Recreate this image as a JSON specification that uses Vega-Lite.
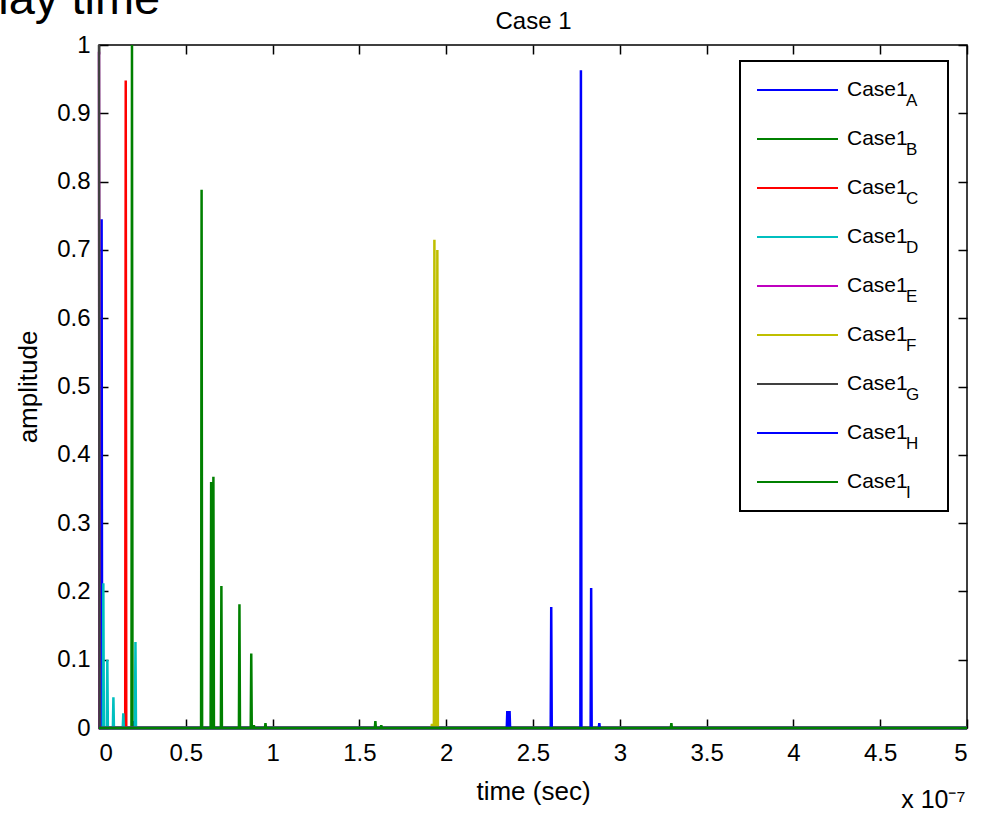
{
  "$schema": "https://vega.github.io/schema/vega-lite/v6.json",
  "width": 868,
  "height": 683,
  "autosize": {"type": "none"},
  "padding": {"left": 99, "top": 45, "right": 19, "bottom": 86},
  "background": "white",
  "config": {
    "font": "Liberation Sans",
    "view": {"stroke": "black", "strokeWidth": 1.5},
    "axis": {
      "grid": false, "domain": false, "tickColor": "black", "tickWidth": 1.5, "tickSize": -9,
      "labelColor": "black", "labelFontSize": 24, "labelFont": "Liberation Sans",
      "titleColor": "black", "titleFontWeight": "normal", "titleFontSize": 26, "titleFont": "Liberation Sans",
      "zindex": 1
    }
  },
  "title": {"text": "delay time", "fontSize": 47, "fontWeight": "normal", "anchor": "start", "frame": "group", "dx": -153, "dy": 52, "color": "black", "baseline": "alphabetic", "offset": 0},
  "data": {"values": [
    {"series": "A", "t": 0, "v": 0}, {"series": "A", "t": 0.012, "v": 0}, {"series": "A", "t": 0.015, "v": 0.745}, {"series": "A", "t": 0.018, "v": 0},
    {"series": "A", "t": 0.195, "v": 0}, {"series": "A", "t": 0.198, "v": 0.01}, {"series": "A", "t": 0.201, "v": 0}, {"series": "A", "t": 5, "v": 0},
    {"series": "B", "t": 0, "v": 0}, {"series": "B", "t": 0.187, "v": 0}, {"series": "B", "t": 0.19, "v": 1.0}, {"series": "B", "t": 0.193, "v": 0}, {"series": "B", "t": 5, "v": 0},
    {"series": "C", "t": 0, "v": 0}, {"series": "C", "t": 0.151, "v": 0}, {"series": "C", "t": 0.154, "v": 0.948}, {"series": "C", "t": 0.157, "v": 0}, {"series": "C", "t": 5, "v": 0},
    {"series": "D", "t": 0, "v": 0}, {"series": "D", "t": 0.022, "v": 0}, {"series": "D", "t": 0.025, "v": 0.212}, {"series": "D", "t": 0.028, "v": 0},
    {"series": "D", "t": 0.045, "v": 0}, {"series": "D", "t": 0.048, "v": 0.1}, {"series": "D", "t": 0.051, "v": 0},
    {"series": "D", "t": 0.08, "v": 0}, {"series": "D", "t": 0.083, "v": 0.045}, {"series": "D", "t": 0.086, "v": 0},
    {"series": "D", "t": 0.137, "v": 0}, {"series": "D", "t": 0.14, "v": 0.0215}, {"series": "D", "t": 0.143, "v": 0},
    {"series": "D", "t": 0.207, "v": 0}, {"series": "D", "t": 0.21, "v": 0.126}, {"series": "D", "t": 0.213, "v": 0}, {"series": "D", "t": 5, "v": 0},
    {"series": "E", "t": 0, "v": 0.99}, {"series": "E", "t": 0.003, "v": 0}, {"series": "E", "t": 5, "v": 0},
    {"series": "F", "t": 0, "v": 0}, {"series": "F", "t": 1.915, "v": 0}, {"series": "F", "t": 1.918, "v": 0.006}, {"series": "F", "t": 1.921, "v": 0},
    {"series": "F", "t": 1.929, "v": 0}, {"series": "F", "t": 1.932, "v": 0.715}, {"series": "F", "t": 1.935, "v": 0},
    {"series": "F", "t": 1.946, "v": 0}, {"series": "F", "t": 1.949, "v": 0.7}, {"series": "F", "t": 1.952, "v": 0}, {"series": "F", "t": 5, "v": 0},
    {"series": "G", "t": 0, "v": 1.0}, {"series": "G", "t": 0.003, "v": 0}, {"series": "G", "t": 5, "v": 0},
    {"series": "H", "t": 0, "v": 0}, {"series": "H", "t": 2.349, "v": 0}, {"series": "H", "t": 2.352, "v": 0.025}, {"series": "H", "t": 2.355, "v": 0},
    {"series": "H", "t": 2.362, "v": 0}, {"series": "H", "t": 2.365, "v": 0.025}, {"series": "H", "t": 2.368, "v": 0},
    {"series": "H", "t": 2.602, "v": 0}, {"series": "H", "t": 2.605, "v": 0.177}, {"series": "H", "t": 2.608, "v": 0},
    {"series": "H", "t": 2.773, "v": 0}, {"series": "H", "t": 2.776, "v": 0.963}, {"series": "H", "t": 2.779, "v": 0},
    {"series": "H", "t": 2.832, "v": 0}, {"series": "H", "t": 2.835, "v": 0.205}, {"series": "H", "t": 2.838, "v": 0},
    {"series": "H", "t": 2.879, "v": 0}, {"series": "H", "t": 2.882, "v": 0.007}, {"series": "H", "t": 2.885, "v": 0}, {"series": "H", "t": 5, "v": 0},
    {"series": "I", "t": 0, "v": 0}, {"series": "I", "t": 0.588, "v": 0}, {"series": "I", "t": 0.591, "v": 0.788}, {"series": "I", "t": 0.594, "v": 0},
    {"series": "I", "t": 0.643, "v": 0}, {"series": "I", "t": 0.646, "v": 0.36}, {"series": "I", "t": 0.649, "v": 0},
    {"series": "I", "t": 0.656, "v": 0}, {"series": "I", "t": 0.659, "v": 0.368}, {"series": "I", "t": 0.662, "v": 0},
    {"series": "I", "t": 0.702, "v": 0}, {"series": "I", "t": 0.705, "v": 0.208}, {"series": "I", "t": 0.708, "v": 0},
    {"series": "I", "t": 0.806, "v": 0}, {"series": "I", "t": 0.809, "v": 0.181}, {"series": "I", "t": 0.812, "v": 0},
    {"series": "I", "t": 0.874, "v": 0}, {"series": "I", "t": 0.877, "v": 0.109}, {"series": "I", "t": 0.88, "v": 0},
    {"series": "I", "t": 0.889, "v": 0}, {"series": "I", "t": 0.892, "v": 0.004}, {"series": "I", "t": 0.895, "v": 0},
    {"series": "I", "t": 0.956, "v": 0}, {"series": "I", "t": 0.959, "v": 0.007}, {"series": "I", "t": 0.962, "v": 0},
    {"series": "I", "t": 1.589, "v": 0}, {"series": "I", "t": 1.592, "v": 0.01}, {"series": "I", "t": 1.595, "v": 0},
    {"series": "I", "t": 1.623, "v": 0}, {"series": "I", "t": 1.626, "v": 0.004}, {"series": "I", "t": 1.629, "v": 0},
    {"series": "I", "t": 3.294, "v": 0}, {"series": "I", "t": 3.297, "v": 0.007}, {"series": "I", "t": 3.3, "v": 0}, {"series": "I", "t": 5, "v": 0}
  ]},
  "encoding": {
    "color": {
      "field": "series", "type": "nominal",
      "scale": {"domain": ["A", "B", "C", "D", "E", "F", "G", "H", "I"], "range": ["#0000FF", "#008000", "#FF0000", "#00BFBF", "#BF00BF", "#BFBF00", "#404040", "#0000FF", "#008000"]},
      "legend": {
        "orient": "none", "legendX": 641, "legendY": 16, "title": "\u200b", "titleOrient": "right", "titlePadding": 24, "titleFontSize": 4,
        "labelExpr": "'Case1'", "labelFontSize": 21, "labelColor": "black", "labelFont": "Liberation Sans",
        "symbolType": "stroke", "symbolSize": 6561, "symbolStrokeWidth": 2,
        "clipHeight": 26, "rowPadding": 23, "padding": 16, "labelOffset": 8,
        "fillColor": "white", "strokeColor": "black", "zindex": 1,
        "encode": {"legend": {"update": {"strokeWidth": {"value": 2}}}}
      }
    },
    "opacity": {
      "field": "series", "type": "nominal",
      "scale": {"type": "ordinal", "range": [1, 1, 1, 1, 1, 1, 1, 1, 1]},
      "legend": {
        "orient": "none", "legendX": 774, "legendY": 27, "title": null,
        "labelFontSize": 17, "labelColor": "black", "labelFont": "Liberation Sans",
        "symbolSize": 0, "symbolOpacity": 0, "symbolStrokeWidth": 0,
        "clipHeight": 26, "rowPadding": 23, "padding": 16, "labelOffset": 0, "zindex": 2
      }
    }
  },
  "layer": [
    {
      "transform": [{"filter": "datum.series != 'I'"}],
      "mark": {"type": "line", "strokeWidth": 2.5},
      "encoding": {
        "x": {"field": "t", "type": "quantitative", "scale": {"domain": [0, 5], "nice": false},
          "axis": {"orient": "bottom", "values": [0, 0.5, 1, 1.5, 2, 2.5, 3, 3.5, 4, 4.5, 5], "format": "~g", "labelPadding": 22, "title": "time (sec)", "titlePadding": 13}},
        "y": {"field": "v", "type": "quantitative", "scale": {"domain": [0, 1], "nice": false},
          "axis": {"orient": "left", "values": [0, 0.1, 0.2, 0.3, 0.4, 0.5, 0.6, 0.7, 0.8, 0.9, 1], "format": "~g", "labelPadding": 18, "title": "amplitude", "titlePadding": 15}}
      }
    },
    {
      "transform": [{"filter": "datum.series == 'I'"}],
      "mark": {"type": "line", "strokeWidth": 2.5},
      "encoding": {
        "x": {"field": "t", "type": "quantitative", "scale": {"domain": [0, 5], "nice": false},
          "axis": {"orient": "top", "values": [0, 0.5, 1, 1.5, 2, 2.5, 3, 3.5, 4, 4.5, 5], "labels": false,
            "title": "Case 1", "titleFontSize": 24, "titleX": 434, "titleY": -17, "titleAlign": "center", "titleBaseline": "alphabetic", "titleAngle": 0}},
        "y": {"field": "v", "type": "quantitative", "scale": {"domain": [0, 1], "nice": false},
          "axis": {"orient": "right", "values": [0, 0.1, 0.2, 0.3, 0.4, 0.5, 0.6, 0.7, 0.8, 0.9, 1], "labels": false,
            "title": "x 10⁻⁷", "titleFontSize": 25, "titleAngle": 0, "titleX": -2, "titleY": 762, "titleAlign": "right", "titleBaseline": "alphabetic"}}
      }
    }
  ],
  "resolve": {"axis": {"x": "independent", "y": "independent"}}
}
